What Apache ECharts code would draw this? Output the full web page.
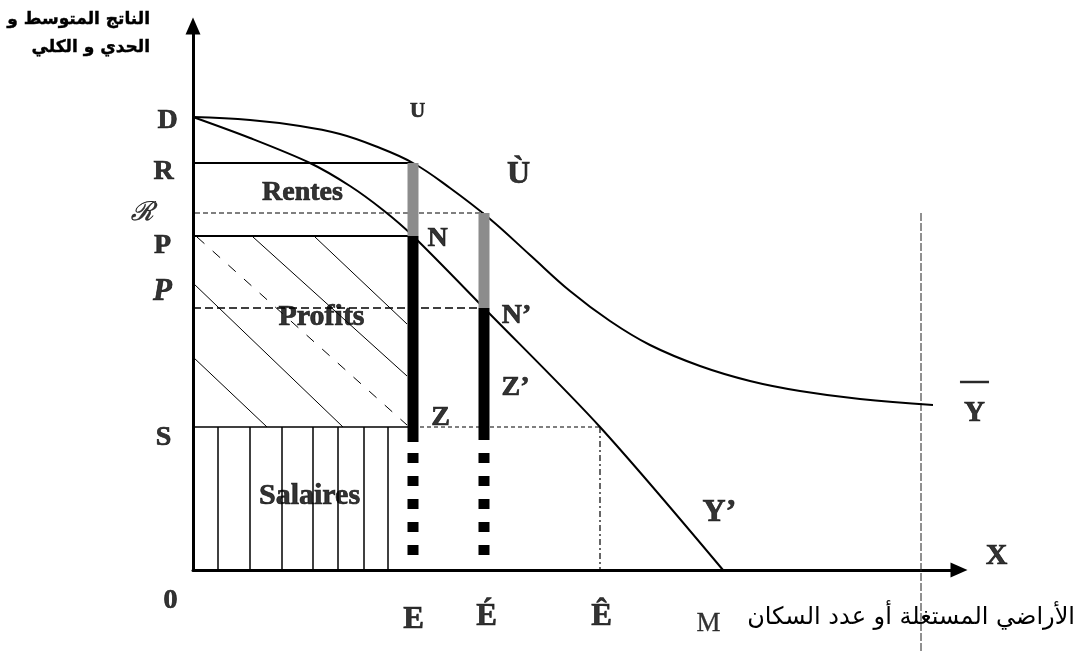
<!DOCTYPE html>
<html>
<head>
<meta charset="utf-8">
<script src="https://cdn.jsdelivr.net/npm/echarts@6/dist/echarts.min.js"></script>
<style>
html, body { margin: 0; padding: 0; background: #fff; }
#chart { width: 1076px; height: 652px; }
</style>
</head>
<body>
<div id="chart"></div>
<script>
// levels read on the vertical axis
const levelNames = ['D', 'R', 'ℛ', 'P', 'P', 'S'];
const levelValues = [453, 407, 357, 334, 262, 143];
// points on the horizontal axis (land / population)
const landNames = ['E', 'É', 'Ê', 'M'];
const landValues = [220, 291, 407, 530];
// average product curve (D -> U -> Ù -> Y bar)
const avgProduct = [[0, 453], [57, 450], [107, 444], [147, 436], [182, 424], [220, 407], [257, 382],
  [297, 351], [337, 315], [377, 279], [417, 249], [457, 225], [507, 204], [557, 189], [607, 179],
  [667, 171], [740, 165]];
// marginal product curve (D -> N -> N' -> M)
const margProduct = [[0, 453], [57, 432], [117, 407], [157, 384], [190, 360], [220, 334], [291, 262], [407, 143], [530, 0]];
// lower end of the solid part of the two bars, and span of the dotted part
const barSolidEnd = [128, 130];
const barDotted = [117, 10];
// hatching of the wage and profit areas
const wageLines = [25, 57, 89, 120, 145, 171, 195];
const profitLines = [[[60, 333], [214, 194]], [[122, 333], [214, 246]], [[0, 287], [150, 143]], [[0, 213], [74, 143]]];
const profitDashed = [[[4, 333], [214, 145]]];
// thin vertical limit line
const limitX = 728;
const limitSpan = [357, -82];

const chart = echarts.init(document.getElementById('chart'));

const [D, R, Rs, P, P2, S] = levelValues;
const [E, E1, E2, M] = landValues;

const seg = (data, width, type, color, z) => ({
  type: 'line', data, symbol: 'none', clip: false, silent: true, z: z || 2,
  lineStyle: { color: color || '#000', width, type: type || 'solid', cap: 'butt' }
});

const series = [];
wageLines.forEach(x => series.push(seg([[x, 0], [x, S]], 1.5)));
profitLines.forEach(l => series.push(seg(l, 1)));
profitDashed.forEach(l => series.push(seg(l, 1, [10, 11])));

series.push(seg([[0, R], [E, R]], 2));
series.push(seg([[0, P], [E, P]], 2));
series.push(seg([[0, S], [E, S]], 1.5));
series.push(seg([[-46, Rs], [E1, Rs]], 1.2, [5, 3]));
series.push(seg([[0, P2], [E1, P2]], 1.5, [8, 4]));
series.push(seg([[E, S], [E2, S]], 1.2, [4, 3]));
series.push(seg([[E2, S], [E2, 0]], 1.2, [6, 3, 2, 3]));
series.push(seg([[limitX, limitSpan[0]], [limitX, limitSpan[1]]], 1, [8, 2], '#222'));

series.push({
  type: 'line', data: avgProduct, smooth: 0.4, symbol: 'none', silent: true, z: 3,
  lineStyle: { color: '#000', width: 2 }
});
series.push({
  type: 'line', data: margProduct, smooth: 0.3, symbol: 'none', silent: true, z: 3,
  lineStyle: { color: '#000', width: 2 }
});

// the two bars at E and É
series.push(seg([[E, R], [E, P]], 11, 'solid', '#8c8c8c', 4));
series.push(seg([[E, P], [E, barSolidEnd[0]]], 11, 'solid', '#000', 4));
series.push(seg([[E, barDotted[0]], [E, barDotted[1]]], 11, [10, 13], '#000', 4));
series.push(seg([[E1, Rs], [E1, P2]], 11, 'solid', '#8c8c8c', 4));
series.push(seg([[E1, P2], [E1, barSolidEnd[1]]], 11, 'solid', '#000', 4));
series.push(seg([[E1, barDotted[0]], [E1, barDotted[1]]], 11, [10, 13], '#000', 4));

// text labels
const serif = {
  fontFamily: 'Liberation Serif', fontWeight: 'bold', fontSize: 28, color: '#000',
  textBorderColor: '#000', textBorderWidth: 0.7,
  position: [0, 0], align: 'center', verticalAlign: 'middle'
};
const tag = (text, pos, offset, extra) => ({
  value: pos,
  label: Object.assign({}, serif, { formatter: text, offset }, extra || {})
});
const levelOffsets = [[-25, 4], [-29, 9], [-50, 1], [-30, 10], [-30, -16], [-29, 11]];
const levelStyle = [{}, {}, { fontFamily: 'DejaVu Serif', fontWeight: 'normal', fontStyle: 'italic', fontSize: 26, textBorderWidth: 0.5 }, {}, { fontStyle: 'italic', fontSize: 31 }, {}];
const landOffsets = [[1, 50], [3, 47], [2, 47], [-14, 54]];
const landStyle = [{ fontSize: 31 }, { fontSize: 31 }, { fontSize: 31 }, { fontWeight: 'normal', fontSize: 27, textBorderWidth: 0.3 }];

const labels = [];
levelNames.forEach((n, i) => labels.push(tag(n, [0, levelValues[i]], levelOffsets[i], levelStyle[i])));
landNames.forEach((n, i) => labels.push(tag(n, [landValues[i], 0], landOffsets[i], landStyle[i])));
labels.push(tag('0', [0, 0], [-22, 31]));
labels.push(tag('X', [766, 0], [38, -13], { fontSize: 30 }));
labels.push(tag('U', [E, R], [5, -51], { fontSize: 21 }));
labels.push(tag('Ù', [E1, Rs], [35, -38], { fontSize: 32 }));
labels.push(tag('N', [E, P], [25, 3]));
labels.push(tag('N’', [E1, P2], [33, 8]));
labels.push(tag('Z', [E, S], [28, -9]));
labels.push(tag('Z’', [E1, S], [32, -39]));
labels.push(tag('Y’', [M, 0], [-3, -57], { fontSize: 32 }));
labels.push(tag('{b|—}\n{y|Y}', avgProduct[avgProduct.length - 1], [42, -10], {
  rich: {
    b: { fontFamily: 'Liberation Serif', fontWeight: 'bold', fontSize: 28, lineHeight: 38, textBorderColor: '#000', textBorderWidth: 0.7 },
    y: { fontFamily: 'Liberation Serif', fontWeight: 'bold', fontSize: 29, lineHeight: 28, textBorderColor: '#000', textBorderWidth: 0.7 }
  }
}));
labels.push(tag('Rentes', [110, 377], [0, 0], { fontSize: 28 }));
labels.push(tag('Profits', [129, 252], [0, 0], { fontSize: 30 }));
labels.push(tag('Salaires', [117, 73], [0, 0], { fontSize: 30 }));

series.push({
  type: 'scatter', data: labels, symbolSize: 1, clip: false, silent: true, z: 6,
  itemStyle: { color: 'transparent' },
  label: { show: true }
});

const option = {
  animation: false,
  backgroundColor: '#fff',
  grid: { left: 193, right: 117, top: 26, bottom: 82 },
  xAxis: {
    type: 'value', min: 0, max: 766,
    axisLine: { lineStyle: { color: '#000', width: 3 }, symbol: ['none', 'triangle'], symbolSize: [15, 17] },
    axisTick: { show: false }, axisLabel: { show: false }, splitLine: { show: false }
  },
  yAxis: {
    type: 'value', min: 0, max: 544,
    axisLine: { show: true, lineStyle: { color: '#000', width: 3 }, symbol: ['none', 'triangle'], symbolSize: [15, 17] },
    axisTick: { show: false }, axisLabel: { show: false }, splitLine: { show: false }
  },
  graphic: [
    {
      type: 'text', x: 150, y: 6, silent: true,
      style: {
        text: 'الناتج المتوسط و\nالحدي و الكلي', align: 'right', verticalAlign: 'top',
        font: 'bold 17px "DejaVu Sans"', lineHeight: 28, fill: '#000',
        stroke: '#000', lineWidth: 0.4
      }
    },
    {
      type: 'text', x: 1075, y: 606, silent: true,
      style: {
        text: 'الأراضي المستغلة أو عدد السكان', align: 'right', verticalAlign: 'top',
        font: '24px "DejaVu Sans"', fill: '#000'
      }
    }
  ],
  series
};
chart.setOption(option);
</script>
</body>
</html>
